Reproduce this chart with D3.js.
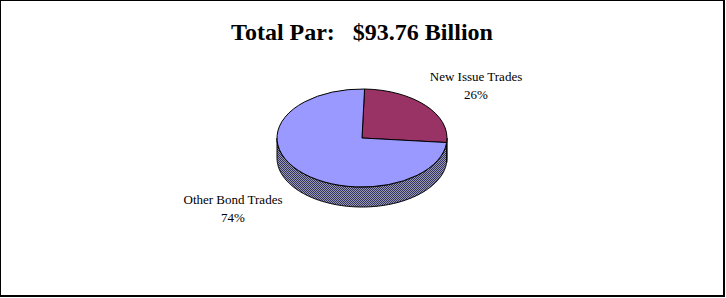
<!DOCTYPE html>
<html>
<head>
<meta charset="utf-8">
<script src="https://cdn.jsdelivr.net/npm/d3@7"></script>
<style>
  body { margin: 0; background: #fff; }
  svg { display: block; }
  text { font-family: "Liberation Serif", "Times New Roman", serif; fill: #000; }
</style>
</head>
<body>
<script>
(function(){

//chart data
var categories = ["New Issue Trades", "Other Bond Trades"];
var shares = [26, 74];
var percentLabels = ["26%", "74%"];
var sliceColors = ["#993366", "#9999FF"];
var titleText = "Total Par:   $93.76 Billion";

//frame dimensions
var width = 726,
    height = 298;

//pie geometry (tilted 3d look)
var cx = 362, cy = 138,
    rx = 85, ry = 49,
    depth = 20,
    startOffset = 0.03;

var svg = d3.select("body")
  .append("svg")
  .attr("width", width)
  .attr("height", height);

//checker pattern for the side of the pie
var defs = svg.append("defs");
var pat = defs.append("pattern")
  .attr("id", "sideFill")
  .attr("patternUnits", "userSpaceOnUse")
  .attr("width", 2)
  .attr("height", 2);
pat.append("rect").attr("width", 2).attr("height", 2).attr("fill", "#9a9aa6");
pat.append("rect").attr("width", 1).attr("height", 1).attr("fill", "#33336b");
pat.append("rect").attr("x", 1).attr("y", 1).attr("width", 1).attr("height", 1).attr("fill", "#33336b");

//outer border
svg.append("rect")
  .attr("x", 0)
  .attr("y", 0)
  .attr("width", 724)
  .attr("height", 296)
  .attr("fill", "none")
  .attr("stroke", "#000")
  .attr("stroke-width", 2);

//title
svg.append("text")
  .attr("x", 362)
  .attr("y", 40)
  .attr("text-anchor", "middle")
  .style("font-size", "24px")
  .style("font-weight", "bold")
  .style("white-space", "pre")
  .text(titleText);

var data = categories.map(function(c, i){
  return {name: c, value: shares[i], color: sliceColors[i], label: percentLabels[i]};
});

var pie = d3.pie()
  .sort(null)
  .value(function(d){ return d.value; })
  .startAngle(startOffset)
  .endAngle(startOffset + 2 * Math.PI);

var arcs = pie(data);

//point on the ellipse rim for angle a (0 = 12 o'clock, clockwise)
function rim(a, dy){
  return [cx + rx * Math.sin(a), cy - ry * Math.cos(a) + (dy || 0)];
}

//side walls, only the front half is visible
function sidePath(a0, a1){
  var lo = Math.max(a0, Math.PI / 2),
      hi = Math.min(a1, 3 * Math.PI / 2);
  if (hi <= lo) return null;
  var steps = d3.range(lo, hi, 0.02).concat([hi]);
  var top = steps.map(function(a){ return rim(a, 0); });
  var bottom = steps.slice().reverse().map(function(a){ return rim(a, depth); });
  return "M" + top.concat(bottom).join("L") + "Z";
}

svg.selectAll(".side")
  .data(arcs)
  .enter()
  .append("path")
  .attr("class", "side")
  .attr("d", function(d){ return sidePath(d.startAngle, d.endAngle); })
  .attr("fill", "url(#sideFill)")
  .attr("stroke", "#000")
  .attr("stroke-width", 1);

//top face
var arc = d3.arc()
  .innerRadius(0)
  .outerRadius(rx);

svg.append("g")
  .attr("transform", "translate(" + cx + "," + cy + ") scale(1," + (ry / rx) + ")")
  .selectAll(".slice")
  .data(arcs)
  .enter()
  .append("path")
  .attr("class", "slice")
  .attr("d", arc)
  .attr("fill", function(d){ return d.data.color; })
  .attr("stroke", "#000")
  .attr("stroke-width", 1)
  .attr("vector-effect", "non-scaling-stroke");

//labels
var labelPos = [[476, 81], [233, 204]];
var labels = svg.selectAll(".lbl")
  .data(arcs)
  .enter()
  .append("text")
  .attr("class", "lbl")
  .attr("text-anchor", "middle")
  .style("font-size", "13px");

labels.append("tspan")
  .attr("x", function(d, i){ return labelPos[i][0]; })
  .attr("y", function(d, i){ return labelPos[i][1]; })
  .text(function(d){ return d.data.name; });

labels.append("tspan")
  .attr("x", function(d, i){ return labelPos[i][0]; })
  .attr("y", function(d, i){ return labelPos[i][1] + 18; })
  .text(function(d){ return d.data.label; });

})();
</script>
</body>
</html>
